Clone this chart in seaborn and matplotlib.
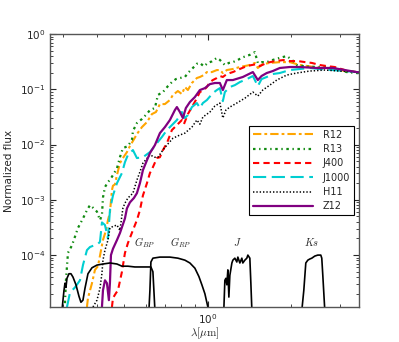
import matplotlib
matplotlib.use("Agg")
import matplotlib.pyplot as plt
import matplotlib.ticker as mticker
import seaborn as sns

# model spectra: wavelength (micron) and normalized flux
lam_r12 = [0.3668, 0.3699, 0.3824, 0.392, 0.4019, 0.4086, 0.4189, 0.4295, 0.4366, 0.4439, 0.4513, 0.4551,
           0.4627, 0.4704, 0.4822, 0.4943, 0.511, 0.5239, 0.5371, 0.5551, 0.5787, 0.6032, 0.6286, 0.65,
           0.6717, 0.7001, 0.7298, 0.7481, 0.7797, 0.806, 0.8264, 0.8471, 0.8757, 0.9127, 0.9357, 0.967,
           0.9916, 1.0335, 1.077, 1.1044, 1.132, 1.170, 1.230, 1.3034, 1.416, 1.476, 1.513, 1.576, 1.671,
           1.815, 1.972, 2.143, 2.328, 2.529, 2.82, 3.11, 3.43, 3.5]
flux_r12 = [1.15e-5, 1.67e-5, 3.1e-5, 5.4e-5, 6.3e-5, 9.7e-5, 1.87e-4, 2.8e-4, 4.3e-4, 5.9e-4, 1.5e-3, 1.8e-3,
            1.9e-3, 2.8e-3, 4.6e-3, 5.7e-3, 7.3e-3, 9.4e-3, 0.0116, 0.0155, 0.0207, 0.0255, 0.0356, 0.0388,
            0.054, 0.054, 0.064, 0.079, 0.093, 0.082, 0.110, 0.097, 0.13, 0.16, 0.167, 0.181,
            0.205, 0.205, 0.223, 0.223, 0.197, 0.223, 0.233, 0.253, 0.275, 0.30, 0.243, 0.286, 0.30,
            0.31, 0.31, 0.275, 0.26, 0.243, 0.243, 0.214, 0.205, 0.203]

lam_r13 = [0.3057, 0.3082, 0.3134, 0.324, 0.3405, 0.3549, 0.3668, 0.3761, 0.3856, 0.3986, 0.4086, 0.4154,
           0.4189, 0.4259, 0.4366, 0.4439, 0.4551, 0.4704, 0.4822, 0.4943, 0.5152, 0.5327, 0.5371, 0.5551,
           0.5787, 0.6032, 0.6183, 0.6445, 0.6607, 0.6886, 0.7177, 0.7419, 0.7668, 0.7928, 0.8264, 0.8471,
           0.883, 0.9127, 0.9357, 0.967, 0.9998, 1.0335, 1.077, 1.1044, 1.151, 1.190, 1.230, 1.282, 1.336,
           1.416, 1.476, 1.513, 1.56, 1.629, 1.713, 1.815, 1.922, 2.01, 2.09, 2.233, 2.467, 2.636, 2.82,
           2.985, 3.16, 3.43, 3.5]
flux_r13 = [1.35e-5, 3.5e-5, 1.1e-4, 1.5e-4, 3.1e-4, 4.6e-4, 6.5e-4, 8.0e-4, 7.2e-4, 6.1e-4, 4.3e-4, 5.3e-4,
            1.1e-3, 1.7e-3, 2.1e-3, 2.3e-3, 2.8e-3, 3.7e-3, 5.9e-3, 8.6e-3, 9.4e-3, 0.0121, 0.0176, 0.0245,
            0.029, 0.036, 0.042, 0.046, 0.079, 0.089, 0.114, 0.135, 0.153, 0.16, 0.167, 0.197,
            0.243, 0.29, 0.30, 0.26, 0.30, 0.32, 0.37, 0.34, 0.275, 0.30, 0.31, 0.34, 0.38,
            0.42, 0.47, 0.30, 0.31, 0.31, 0.34, 0.37, 0.40, 0.34, 0.275, 0.26, 0.253, 0.253, 0.243,
            0.223, 0.205, 0.197, 0.195]

lam_j400 = [0.4513, 0.4551, 0.4665, 0.4743, 0.4903, 0.5026, 0.5152, 0.5371, 0.5551, 0.5691, 0.5835, 0.6032,
            0.6183, 0.6338, 0.6552, 0.6717, 0.6886, 0.7118, 0.7419, 0.7733, 0.806, 0.82, 0.8471, 0.8757,
            0.905, 0.9357, 0.967, 0.9916, 1.0165, 1.042, 1.077, 1.1044, 1.132, 1.170, 1.230, 1.3034, 1.381,
            1.44, 1.501, 1.538, 1.629, 1.742, 1.87, 1.972, 2.11, 2.233, 2.367, 2.529, 2.68, 2.864, 3.111,
            3.43, 3.5]
flux_j400 = [1.15e-5, 1.67e-5, 2.05e-5, 2.3e-5, 5.0e-5, 1.09e-4, 1.65e-4, 2.83e-4, 4.3e-4, 6.5e-4, 1.2e-3, 2.0e-3,
             3.05e-3, 3.9e-3, 5.7e-3, 5.9e-3, 7.95e-3, 0.0106, 0.0183, 0.0225, 0.0278, 0.0235, 0.0356, 0.0477,
             0.0639, 0.0892, 0.0969, 0.110, 0.135, 0.147, 0.160, 0.174, 0.167, 0.189, 0.205, 0.233, 0.263,
             0.275, 0.286, 0.263, 0.30, 0.324, 0.338, 0.324, 0.324, 0.311, 0.30, 0.275, 0.263, 0.253, 0.223,
             0.205, 0.20]

lam_j1000 = [0.3108, 0.3134, 0.3187, 0.3321, 0.3462, 0.3549, 0.3668, 0.3761, 0.392, 0.4019, 0.4086, 0.4154,
             0.4259, 0.4366, 0.4439, 0.4551, 0.4704, 0.4822, 0.4903, 0.5026, 0.5152, 0.5371, 0.5551, 0.5835,
             0.6183, 0.6552, 0.6829, 0.7118, 0.7419, 0.7733, 0.806, 0.8264, 0.8471, 0.8757, 0.9127, 0.9357,
             0.9592, 0.9916, 1.042, 1.077, 1.1044, 1.132, 1.151, 1.1997, 1.2505, 1.3034, 1.381, 1.452, 1.513,
             1.56, 1.629, 1.713, 1.815, 1.972, 2.143, 2.328, 2.529, 2.82, 3.111, 3.43, 3.5]
flux_j1000 = [1.15e-5, 1.4e-5, 2.1e-5, 2.6e-5, 3.5e-5, 6.6e-5, 1.23e-4, 1.4e-4, 1.52e-4, 1.6e-4, 1.73e-4, 3.9e-4,
              3.5e-4, 2.0e-4, 6.5e-4, 1.2e-3, 2.0e-3, 2.58e-3, 3.05e-3, 4.8e-3, 6.5e-3, 7.95e-3, 5.7e-3, 5.9e-3,
              7.3e-3, 0.0106, 0.0137, 0.0183, 0.0225, 0.0278, 0.0388, 0.0302, 0.0342, 0.0477, 0.0564, 0.0458,
              0.0564, 0.0639, 0.0855, 0.0969, 0.105, 0.061, 0.0892, 0.110, 0.119, 0.135, 0.153, 0.174, 0.114,
              0.153, 0.167, 0.189, 0.197, 0.223, 0.233, 0.243, 0.233, 0.223, 0.214, 0.205, 0.203]

lam_h11 = [0.3856, 0.3986, 0.4086, 0.4154, 0.4189, 0.4259, 0.4366, 0.4439, 0.4551, 0.4704, 0.4822, 0.4943,
           0.5026, 0.5152, 0.5371, 0.5551, 0.5691, 0.5835, 0.6183, 0.6445, 0.6607, 0.6886, 0.7118, 0.7481,
           0.7928, 0.8264, 0.8757, 0.9127, 0.9357, 0.9592, 1.0165, 1.0595, 1.1044, 1.132, 1.161, 1.1997,
           1.271, 1.3585, 1.452, 1.513, 1.576, 1.671, 1.77, 1.922, 2.09, 2.328, 2.636, 2.985, 3.43, 3.5]
flux_h11 = [1.15e-5, 1.53e-5, 2.5e-5, 4.7e-5, 8.1e-5, 1.23e-4, 1.87e-4, 3.1e-4, 3.3e-4, 3.5e-4, 2.8e-4, 7.1e-4,
            8.7e-4, 1.08e-3, 1.32e-3, 2.28e-3, 3.2e-3, 4.6e-3, 6.5e-3, 5.9e-3, 5.9e-3, 7.95e-3, 0.0098, 0.013,
            0.0149, 0.0161, 0.0207, 0.0278, 0.0234, 0.0315, 0.0388, 0.0498, 0.0564, 0.0302, 0.0421, 0.0477,
            0.0564, 0.069, 0.0892, 0.0755, 0.0969, 0.119, 0.147, 0.181, 0.197, 0.214, 0.223, 0.214, 0.205, 0.203]

lam_z12 = [0.4154, 0.4189, 0.4259, 0.433, 0.44, 0.4439, 0.4476, 0.4551, 0.4704, 0.4822, 0.5026, 0.511,
           0.5239, 0.5415, 0.5551, 0.5691, 0.5835, 0.6032, 0.6183, 0.6445, 0.6717, 0.7001, 0.7298, 0.7606,
           0.7733, 0.7928, 0.8127, 0.833, 0.8613, 0.8977, 0.9357, 0.9753, 1.0165, 1.0595, 1.1044, 1.132,
           1.170, 1.23, 1.336, 1.452, 1.513, 1.56, 1.629, 1.713, 1.815, 1.972, 2.143, 2.467, 2.82, 3.111,
           3.43, 3.5]
flux_z12 = [1.15e-5, 2.3e-5, 3.5e-5, 3.1e-5, 1.53e-5, 3.2e-5, 1.0e-4, 1.3e-4, 1.87e-4, 2.5e-4, 4.6e-4, 7.0e-4,
            9.0e-4, 1.08e-3, 1.32e-3, 2.0e-3, 3.45e-3, 5.2e-3, 7.0e-3, 9.8e-3, 0.0161, 0.0207, 0.0278, 0.0421,
            0.0477, 0.0388, 0.0302, 0.0458, 0.0588, 0.0724, 0.0969, 0.105, 0.124, 0.130, 0.130, 0.0969,
            0.147, 0.147, 0.167, 0.205, 0.147, 0.174, 0.197, 0.214, 0.243, 0.253, 0.253, 0.243, 0.243, 0.223,
            0.205, 0.203]

# photometric filter transmission curves (scaled to the flux axis)
lam_gbp = [0.2982, 0.3007, 0.3032, 0.3057, 0.3082, 0.3108, 0.316, 0.3213, 0.3267, 0.3349, 0.3433, 0.349,
           0.3549, 0.3608, 0.3699, 0.3824, 0.3986, 0.4189, 0.4439, 0.4704, 0.4903, 0.5152, 0.546, 0.5835,
           0.6234, 0.6338, 0.639, 0.6445]
flux_gbp = [1.0e-5, 1.53e-5, 2.3e-5, 3.1e-5, 2.6e-5, 3.8e-5, 4.6e-5, 4.6e-5, 4.0e-5, 2.9e-5, 1.8e-5, 1.4e-5,
            1.53e-5, 2.5e-5, 4.6e-5, 5.9e-5, 6.6e-5, 6.9e-5, 7.2e-5, 6.9e-5, 6.3e-5, 6.3e-5, 6.1e-5, 6.1e-5,
            6.1e-5, 5.0e-5, 2.3e-5, 1.0e-5]

lam_grp = [0.6132, 0.6183, 0.6234, 0.6338, 0.6717, 0.7298, 0.7797, 0.8264, 0.8613, 0.8977, 0.928, 0.9513,
           0.9753, 0.9998, 1.008]
flux_grp = [1.0e-5, 2.3e-5, 7.5e-5, 8.8e-5, 9.2e-5, 9.2e-5, 8.8e-5, 8.1e-5, 7.2e-5, 5.8e-5, 4.1e-5, 2.9e-5,
            2.0e-5, 1.15e-5, 1.0e-5]

lam_j = [1.141, 1.151, 1.161, 1.170, 1.180, 1.190, 1.1997, 1.220, 1.230, 1.2505, 1.271, 1.282, 1.3034,
         1.325, 1.336, 1.3585, 1.381, 1.393, 1.416, 1.428, 1.440]
flux_j = [1.0e-5, 3.5e-5, 3.8e-5, 2.9e-5, 5.4e-5, 1.74e-5, 4.3e-5, 7.2e-5, 8.1e-5, 8.8e-5, 7.5e-5, 9.2e-5, 7.2e-5,
          8.8e-5, 7.2e-5, 8.1e-5, 8.8e-5, 1.0e-4, 8.8e-5, 3.1e-5, 1.0e-5]

lam_ks = [2.179, 2.215, 2.252, 2.29, 2.328, 2.367, 2.426, 2.487, 2.55, 2.571, 2.593, 2.636]
flux_ks = [1.0e-5, 2.3e-5, 7.2e-5, 8.1e-5, 8.5e-5, 8.8e-5, 9.6e-5, 1.0e-4, 1.0e-4, 8.8e-5, 4.3e-5, 1.0e-5]

filter_names = [r'$G_{BP}$', r'$G_{RP}$', r'$J$', r'$Ks$']
filter_label_lam = [0.593, 0.80, 1.28, 2.36]
filter_label_flux = 1.7e-4

sns.set_style('ticks')
plt.rcParams['font.family'] = ['DejaVu Sans']
plt.rcParams['mathtext.fontset'] = 'cm'
plt.rcParams['lines.scale_dashes'] = False

fig = plt.figure(figsize=(3.99, 3.42), dpi=100)
ax = fig.add_axes([0.1253, 0.1023, 0.7744, 0.7982])

series = [
    (lam_r12, flux_r12, 'R12', '#FFA500', 1.5, (0, (6, 2.2, 2, 2.2))),
    (lam_r13, flux_r13, 'R13', '#108A10', 1.6, (0, (1.8, 2.6, 1, 2.6))),
    (lam_j400, flux_j400, 'J400', '#FF0000', 1.5, (0, (4.5, 3))),
    (lam_j1000, flux_j1000, 'J1000', '#00CED1', 1.5, (0, (9.5, 4))),
    (lam_h11, flux_h11, 'H11', 'black', 1.1, (0, (1, 1.4))),
    (lam_z12, flux_z12, 'Z12', '#800080', 1.6, '-'),
]
for lam, flux, name, col, lw, ls in series:
    sns.lineplot(x=lam, y=flux, ax=ax, color=col, lw=lw, linestyle=ls,
                 label=name, estimator=None, sort=False)

for lam, flux in [(lam_gbp, flux_gbp), (lam_grp, flux_grp), (lam_j, flux_j), (lam_ks, flux_ks)]:
    sns.lineplot(x=lam, y=flux, ax=ax, color='black', lw=1.2, estimator=None, sort=False)

for name, xl in zip(filter_names, filter_label_lam):
    ax.text(xl, filter_label_flux, name, ha='center', va='center', fontsize=7.5)

ax.set_xscale('log')
ax.set_yscale('log')
ax.set_xlim(0.27, 3.5)
ax.set_ylim(1.15e-5, 1)
ax.xaxis.set_minor_formatter(mticker.NullFormatter())
ax.set_xlabel(r'$\lambda[\mu{\rm m}]$', fontsize=8, labelpad=0)
ax.set_ylabel('Normalized flux', fontsize=7.5)
ax.tick_params(which='both', direction='in', top=True, right=True, labelsize=7.5)
ax.tick_params(which='major', length=4, width=0.8)
ax.tick_params(which='minor', length=2, width=0.6)
for sp in ax.spines.values():
    sp.set_color('#555555')
    sp.set_linewidth(1.0)

leg = ax.legend(loc='center right', fontsize=7, handlelength=6.2, handletextpad=1.0,
                fancybox=False, framealpha=1, edgecolor='black', labelspacing=0.45)
leg.get_frame().set_linewidth(0.8)

plt.savefig('out.png', dpi=100)
plt.close()
